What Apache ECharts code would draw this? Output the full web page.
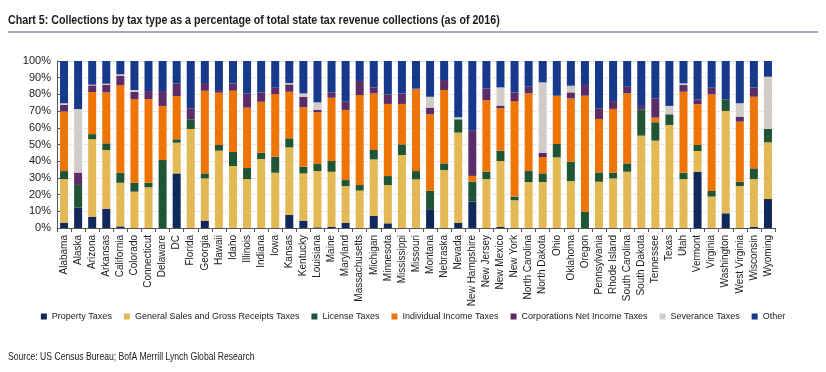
<!DOCTYPE html>
<html><head><meta charset="utf-8">
<script src="https://cdn.jsdelivr.net/npm/echarts@6/dist/echarts.min.js"></script>
<style>html,body{margin:0;padding:0;background:#fff}#c{width:826px;height:372px}</style>
</head><body><div id="c"></div>
<script>
const categories = ["Alabama","Alaska","Arizona","Arkansas","California","Colorado","Connecticut","Delaware","DC","Florida","Georgia","Hawaii","Idaho","Illinois","Indiana","Iowa","Kansas","Kentucky","Louisiana","Maine","Maryland","Massachusetts","Michigan","Minnesota","Mississippi","Missouri","Montana","Nebraska","Nevada","New Hampshire","New Jersey","New Mexico","New York","North Carolina","North Dakota","Ohio","Oklahoma","Oregon","Pennsylvania","Rhode Island","South Carolina","South Dakota","Tennessee","Texas","Utah","Vermont","Virginia","Washington","West Virginia","Wisconsin","Wyoming"];
const propertyTaxes = [3.2,12.2,6.6,11.4,1.0,0,0,0,32.7,0,4.4,0,0,0,0,0,7.8,4.4,0.4,0.8,3.2,0,7.2,2.8,0,0,10.8,0,3.2,15.8,0,0.6,0,0,0,0,0,0,0,0,0,0,0,0,0,33.7,0,8.8,0,0.6,17.4];
const salesTaxes = [26.1,0,46.6,35.3,26.1,21.8,24.4,0,18.4,59.3,25.3,46.3,37.1,29.3,41.3,33.1,40.5,28.3,33.7,32.9,21.9,22.4,33.9,22.9,43.7,29.1,0,34.7,53.9,0,29.3,39.5,16.6,27.5,27.5,42.3,28.1,0,27.7,29.7,33.7,55.3,52.3,61.7,29.3,12.4,18.8,61.3,25.1,28.7,33.9];
const licenseTaxes = [4.8,13.6,3.0,4.0,6.0,5.3,2.7,40.7,2.0,5.8,3.0,3.4,8.4,6.6,3.8,9.6,5.4,4.0,4.2,6.4,3.6,3.3,5.6,5.4,6.4,5.0,11.4,4.0,8.0,12.0,4.4,6.2,2.2,6.6,5.2,8.0,11.6,9.8,5.6,3.4,5.0,15.8,11.0,6.4,3.8,3.6,3.4,6.9,2.6,6.4,8.0];
const incomeTaxes = [35.6,0,25.2,30.5,52.5,50.1,50.1,32.4,25.9,0,49.5,31.3,36.7,36.2,30.5,37.5,27.9,35.6,31.0,37.9,42.0,53.9,33.9,43.2,24.2,48.9,45.9,43.9,0,3.4,42.9,25.4,57.2,46.5,9.8,28.9,37.9,69.4,32.0,38.2,41.9,0,2.8,0,48.5,24.4,57.8,0,36.0,42.9,0];
const corpTaxes = [4.0,7.4,4.0,4.6,5.6,4.4,4.8,8.9,7.6,6.6,4.6,1.6,4.4,8.5,5.6,3.8,4.4,6.3,1.4,3.2,4.9,8.4,3.6,5.7,6.3,0.6,4.0,6.0,0,27.0,7.0,1.6,5.2,4.0,2.4,0,3.6,6.4,6.4,4.7,4.0,2.0,11.5,0,4.0,2.9,4.0,0,3.0,5.6,0];
const severanceTaxes = [1.0,38.0,0.4,0.6,0.8,1.0,0,0,0,0,0,0,0,0,0,0,0.8,2.0,4.5,0,0,0,0,0,0,0,6.5,0,1.2,0,0,10.9,0,0,42.3,0,4.0,0,0,0,0,0,0,5.0,1.0,0,0,0,8.0,0,31.3];
const otherTaxes = [25.3,28.8,14.2,13.6,8.0,17.4,18.0,18.0,13.4,28.3,13.2,17.4,13.4,19.4,18.8,16.0,13.2,19.4,24.8,18.8,24.4,12.0,15.8,20.0,19.4,16.4,21.4,11.4,33.7,41.8,16.4,15.8,18.8,15.4,12.8,20.8,14.8,14.4,28.3,24.0,15.4,26.9,22.4,26.9,13.4,23.0,16.0,23.0,25.3,15.8,9.4];
const seriesNames = ["Property Taxes","General Sales and Gross Receipts Taxes","License Taxes","Individual Income Taxes","Corporations Net Income Taxes","Severance Taxes","Other"];
const yTicks = [0,10,20,30,40,50,60,70,80,90,100];
const titleText = "Chart 5: Collections by tax type as a percentage of total state tax revenue collections (as of 2016)";
const sourceText = "Source: US Census Bureau; BofA Merrill Lynch Global Research";

const FONT = "'Liberation Sans',Arial,sans-serif";
const colors = ["#10285a","#e2b955","#1f5434","#ee7405","#5b2c68","#d1ccc8","#16398c"];
const dataSets = [propertyTaxes,salesTaxes,licenseTaxes,incomeTaxes,corpTaxes,severanceTaxes,otherTaxes];

const chart = echarts.init(document.getElementById('c'), null, {renderer:'canvas'});
chart.setOption({
  animation:false,
  color:colors,
  graphic:[
    {type:'text', x:8, y:20, scaleX:0.82, style:{text:titleText, font:"bold 13px 'Liberation Sans', Arial, sans-serif", fill:'#1a1a1a', textVerticalAlign:'middle'}},
    {type:'line', shape:{x1:8,y1:32,x2:818,y2:32}, style:{stroke:'#4a5a78', lineWidth:1}},
    {type:'text', x:8, y:357, scaleX:0.82, style:{text:sourceText, font:"10.5px 'Liberation Sans', Arial, sans-serif", fill:'#1a1a1a', textVerticalAlign:'middle'}}
  ],
  legend:{
    data:seriesNames, left:'center', top:307, icon:'rect', itemWidth:6, itemHeight:6, itemGap:12,
    textStyle:{fontFamily:FONT, fontSize:9, color:'#1a1a1a'}
  },
  grid:{left:57, right:51, top:61, bottom:144, containLabel:false},
  xAxis:{
    type:'category', data:categories,
    axisLine:{lineStyle:{color:'#555'}},
    axisTick:{show:true, alignWithLabel:false, length:4, lineStyle:{color:'#555'}},
    axisLabel:{rotate:90, interval:0, margin:7, fontFamily:FONT, fontSize:10, color:'#1a1a1a'}
  },
  yAxis:{
    type:'value', min:0, max:100, interval:10,
    axisLine:{show:true, lineStyle:{color:'#555'}},
    axisTick:{show:true, inside:true, length:3, lineStyle:{color:'#555'}},
    axisLabel:{formatter:v=> yTicks.includes(v)? v+'%':'', fontFamily:FONT, fontSize:11, color:'#1a1a1a', margin:6},
    splitLine:{show:true, lineStyle:{color:'#d6d6d6', type:'dotted'}}
  },
  series: seriesNames.map((n,i)=>({
    name:n, type:'bar', stack:'total', barWidth:8, data:dataSets[i],
    itemStyle:{color:colors[i]}
  }))
});
</script></body></html>
